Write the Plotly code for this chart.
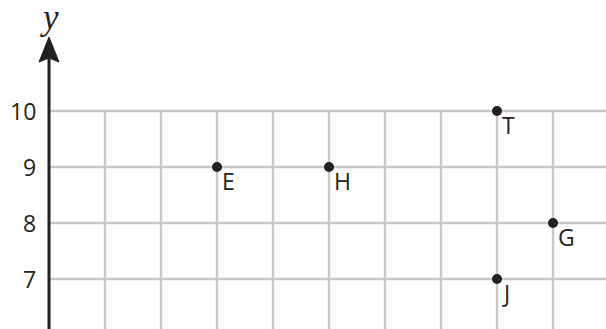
import plotly.graph_objects as go

# ---- data ----
point_labels = ["E", "H", "T", "G", "J"]
point_x = [3, 5, 8, 9, 8]
point_y = [9, 9, 10, 8, 7]
x_grid = [1, 2, 3, 4, 5, 6, 7, 8, 9]
y_ticks = [6, 7, 8, 9, 10]
y_tick_labels = ["6", "7", "8", "9", "10"]

# ---- view ----
W, H = 606, 329
X0_PX, UNIT = 49, 56.0      # pixel of x=0, pixels per unit
Y10_PX = 111                # pixel of y=10
x_min = -X0_PX / UNIT
x_max = (W - X0_PX) / UNIT
y_max = 10 + Y10_PX / UNIT
y_min = 10 - (H - Y10_PX) / UNIT

GRID = "#c8c8c9"
INK = "#231f20"
SANS = "Open Sans"

fig = go.Figure()
shapes = []
# horizontal grid lines
for yv in y_ticks:
    shapes.append(dict(type="line", x0=0, x1=x_max, y0=yv, y1=yv,
                       line=dict(color=GRID, width=2.5), layer="below"))
# vertical grid lines
for xv in x_grid:
    shapes.append(dict(type="line", x0=xv, x1=xv, y0=y_min, y1=max(y_ticks),
                       line=dict(color=GRID, width=2.5), layer="below"))

# y axis with arrow
tip_y = y_max - 37 / UNIT
base_y = y_max - 62 / UNIT
notch_y = y_max - 58 / UNIT
half_w = 10 / UNIT
shapes.append(dict(type="line", x0=0, x1=0, y0=y_min, y1=notch_y,
                   line=dict(color=INK, width=3)))
shapes.append(dict(type="path",
                   path=f"M 0 {tip_y} L {half_w} {base_y} L 0 {notch_y} L {-half_w} {base_y} Z",
                   fillcolor=INK, line=dict(color=INK, width=1)))

annotations = []
for yv, lab in zip(y_ticks, y_tick_labels):
    annotations.append(dict(x=0, y=yv, text=lab, showarrow=False,
                            xanchor="right", yanchor="middle", xshift=-11,
                            font=dict(family=SANS, size=23, color=INK)))
annotations.append(dict(x=0, y=y_max - 17 / UNIT, text="<i>y</i>", showarrow=False,
                        xanchor="center", yanchor="middle",
                        font=dict(family="Liberation Serif", size=35, color=INK)))

# point labels
for xv, yv, lab in zip(point_x, point_y, point_labels):
    annotations.append(dict(x=xv, y=yv, text=lab, showarrow=False,
                            xanchor="left", yanchor="top", xshift=3, yshift=4,
                            font=dict(family=SANS, size=23, color=INK)))

fig.add_trace(go.Scatter(x=point_x, y=point_y, mode="markers",
                         marker=dict(size=10, color=INK),
                         hoverinfo="skip", showlegend=False))

fig.update_layout(
    width=W, height=H, margin=dict(l=0, r=0, t=0, b=0),
    paper_bgcolor="white", plot_bgcolor="white",
    xaxis=dict(range=[x_min, x_max], visible=False, fixedrange=True),
    yaxis=dict(range=[y_min, y_max], visible=False, fixedrange=True),
    shapes=shapes, annotations=annotations, showlegend=False,
)
fig.write_html("out.html", config={"displayModeBar": False},
               post_script="document.body.style.margin='0';document.body.style.padding='0';document.body.style.overflow='hidden';")
